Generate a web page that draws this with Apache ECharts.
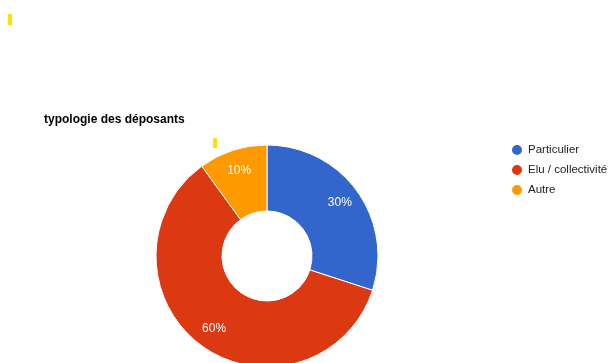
<!DOCTYPE html>
<html>
<head>
<meta charset="utf-8">
<script src="https://cdn.jsdelivr.net/npm/echarts@6/dist/echarts.min.js"></script>
<style>
  html, body { margin: 0; padding: 0; background: #fff; }
  #chart { width: 608px; height: 363px; }
</style>
</head>
<body>
<div id="chart"></div>
<script>
// données
const categories = ['Particulier', 'Elu / collectivité', 'Autre']
const values = [30, 60, 10]
const colors = ['#3366cc', '#dc3912', '#ff9900']

const pieData = categories.map((name, i) => ({ name, value: values[i] }))

const chart = echarts.init(document.getElementById('chart'))

const option = {
    backgroundColor: '#fff',
    animation: false,
    color: colors,
    title: {
        text: 'typologie des déposants',
        left: 39,
        top: 109,
        textStyle: {
            fontFamily: 'Liberation Sans, Arial, sans-serif',
            fontSize: 12,
            fontWeight: 'bold',
            color: '#000'
        }
    },
    legend: {
        orient: 'vertical',
        left: 505,
        top: 138,
        icon: 'circle',
        itemWidth: 12,
        itemHeight: 12,
        itemGap: 6,
        textStyle: {
            fontFamily: 'Liberation Sans, Arial, sans-serif',
            fontSize: 11.5,
            color: '#222'
        },
        data: categories
    },
    // petits traits jaunes du visuel d'origine
    graphic: [
        { type: 'rect', left: 8, top: 14, shape: { width: 4, height: 11 }, style: { fill: '#ffe000' } },
        { type: 'rect', left: 213, top: 138, shape: { width: 4, height: 10 }, style: { fill: '#ffe000' } }
    ],
    series: [
        {
            name: 'typologie',
            type: 'pie',
            center: [267, 256],
            radius: [45, 111],
            startAngle: 90,
            clockwise: true,
            label: { show: false },
            labelLine: { show: false },
            emphasis: { disabled: true },
            itemStyle: { borderColor: '#fff', borderWidth: 1 },
            data: pieData
        },
        {
            // série transparente pour placer les pourcentages un peu plus loin du centre
            name: 'labels',
            type: 'pie',
            center: [267, 256],
            radius: [62, 112],
            startAngle: 90,
            clockwise: true,
            silent: true,
            legendHoverLink: false,
            itemStyle: { color: 'transparent' },
            label: {
                show: true,
                position: 'inside',
                formatter: '{d}%',
                color: '#fff',
                fontFamily: 'Liberation Sans, Arial, sans-serif',
                fontSize: 12
            },
            labelLine: { show: false },
            data: pieData
        }
    ]
}

chart.setOption(option)
</script>
</body>
</html>
